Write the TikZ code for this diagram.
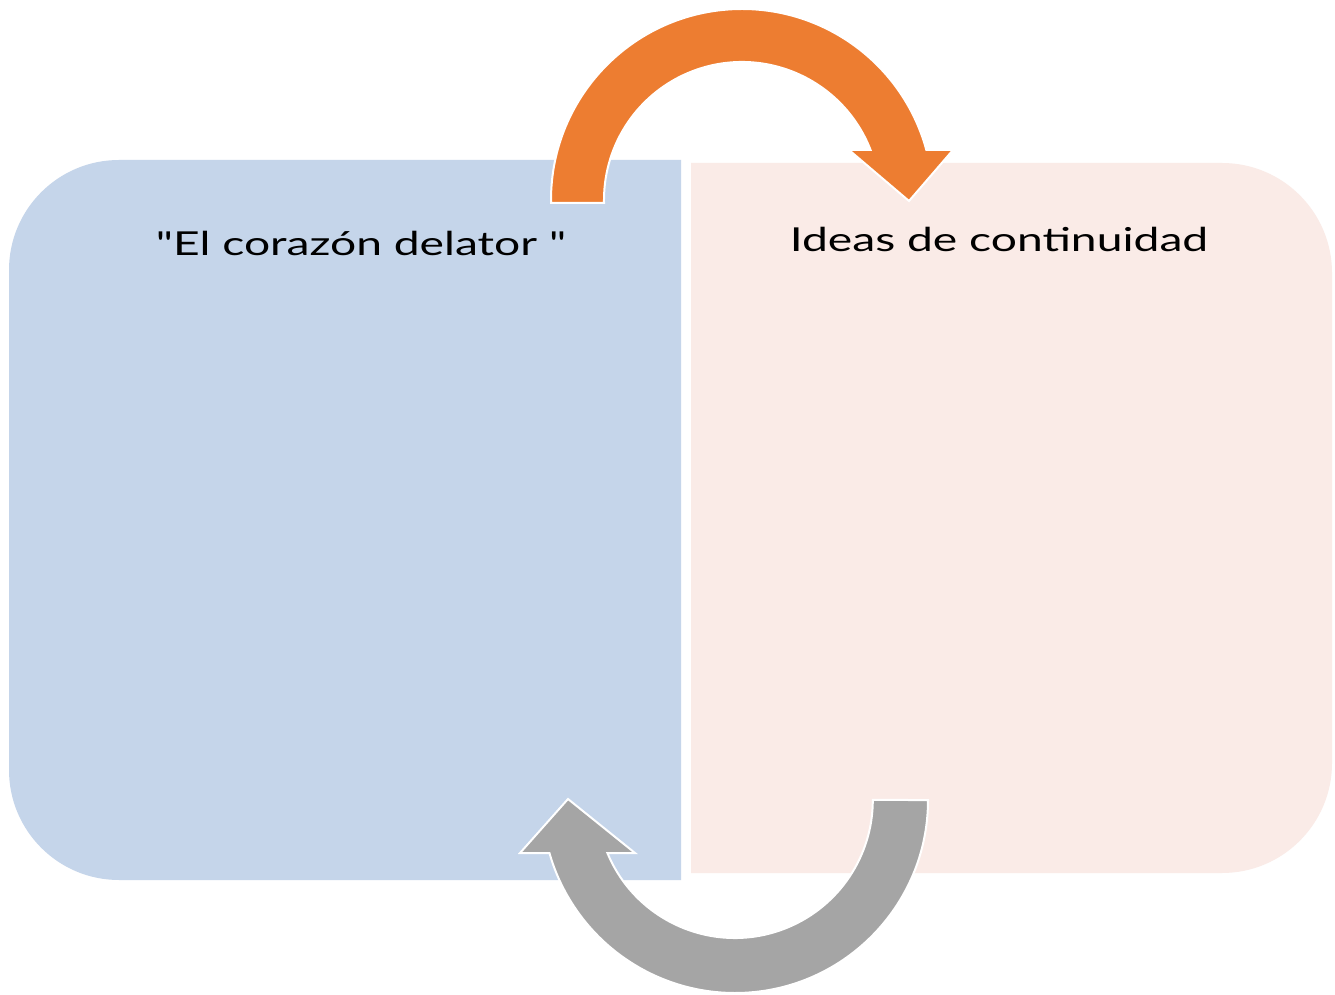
\documentclass[tikz,border=0pt]{standalone}
\usepackage{fontspec}
\setmainfont{Lato}
\definecolor{panelblue}{HTML}{C5D5EA}
\definecolor{panelpink}{HTML}{FAEBE7}
\definecolor{arroworange}{HTML}{ED7D31}
\definecolor{arrowgray}{HTML}{A5A5A5}
\tikzset{
  panel/.style={draw=none},
  bigarrow/.style={draw=white, line width=2pt, line join=miter},
  title/.style={font=\fontsize{33}{38}\selectfont, text=black, inner sep=0pt}
}
\newcommand{\widetext}[1]{\scalebox{1.4}[1]{#1}}
\begin{document}
\begin{tikzpicture}[x=1pt,y=1pt]
\useasboundingbox (0,0) rectangle (1335,994);
\fill[white] (0,0) rectangle (1335,994);
% left panel
\fill[panelblue, panel] (681,114) -- (681,834) -- (119,834)
  arc[start angle=90,end angle=180,radius=110] -- (9,224)
  arc[start angle=180,end angle=270,radius=110] -- cycle;
% right panel
\fill[panelpink, panel] (691,121) -- (691,831) -- (1222,831)
  arc[start angle=90,end angle=0,radius=110] -- (1332,231)
  arc[start angle=0,end angle=-90,radius=110] -- cycle;
% orange arrow (top)
\filldraw[arroworange, bigarrow] (551,791) -- (551,794)
  arc[start angle=180,end angle=15.19,radius=191] -- (953,844) -- (909,793)
  -- (849,844) -- (870.6,844)
  arc[start angle=21.24,end angle=180,radius=138] -- (604,791) -- cycle;
% gray arrow (bottom)
\filldraw[arrowgray, bigarrow] (928,194)
  arc[start angle=0,end angle=-164.06,radius=193] -- (520,141) -- (568,195)
  -- (635,141) -- (607.4,141)
  arc[start angle=-157.41,end angle=0,radius=138] -- cycle;
% texts
\node[title] (lefttitle) at (361,751) {\widetext{\textquotedbl El corazón delator \textquotedbl}};
\node[title] (righttitle) at (999,755) {\widetext{Ideas de continuidad}};
\end{tikzpicture}
\end{document}
